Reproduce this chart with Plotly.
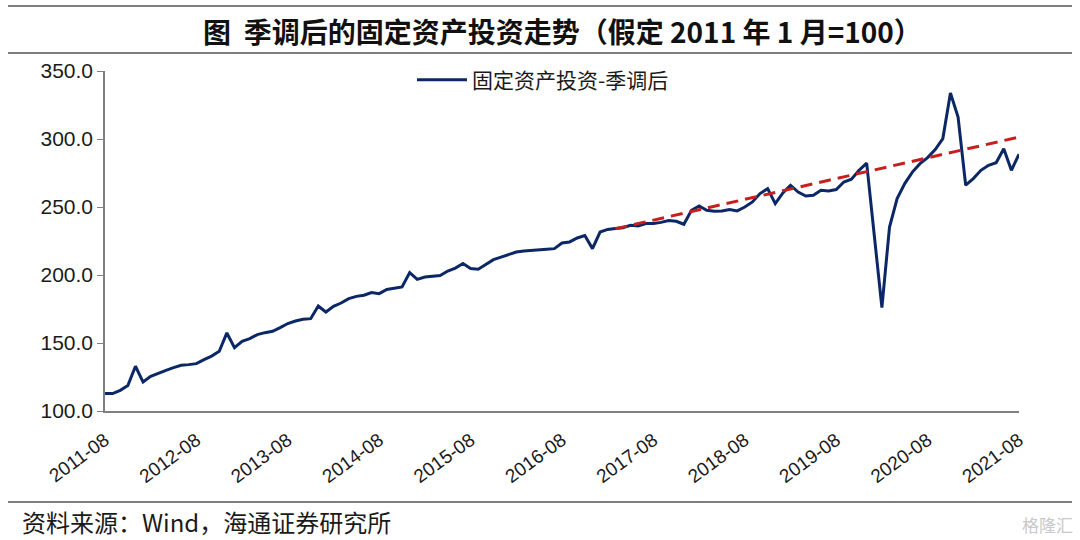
import pandas as pd
import plotly.graph_objects as go

# ---------------- data ----------------
months = [d.strftime("%Y-%m") for d in pd.date_range("2011-08-01", periods=121, freq="MS")]

fai_sa = [
    112.8, 112.8, 115.2, 118.7, 132.9, 121.3, 125.5, 127.9, 129.9, 131.9,
    133.6, 134.1, 134.8, 137.8, 140.4, 143.9, 157.4, 146.6, 151.3, 153.2,
    156.2, 157.6, 158.6, 161.3, 164.3, 166.2, 167.4, 167.9, 177.2, 172.8,
    177.0, 179.4, 182.6, 184.3, 185.1, 187.1, 186.3, 189.3, 190.0, 191.2,
    201.8, 196.8, 198.5, 199.3, 199.6, 202.9, 205.1, 208.4, 204.7, 204.2,
    207.9, 211.3, 213.2, 215.0, 216.9, 217.6, 218.2, 218.7, 218.9, 219.4,
    223.5, 224.3, 227.2, 229.0, 219.4, 231.6, 233.5, 234.2, 234.8, 236.5,
    236.0, 237.8, 237.8, 238.7, 240.0, 239.5, 237.3, 247.6, 250.7, 247.6,
    246.8, 247.1, 248.1, 247.1, 250.0, 253.7, 259.9, 263.5, 252.5, 260.3,
    266.0, 261.0, 258.1, 258.6, 262.3, 261.8, 262.8, 268.4, 270.4, 277.0,
    282.2, None, 176.0, 235.3, 256.2, 267.2, 275.7, 281.9, 286.3, 292.2,
    300.3, 333.8, 316.2, 266.0, 270.9, 277.0, 280.7, 282.6, 292.9, 277.0,
    288.8,
]

trend_x = ["2017-03", "2021-08"]
trend_y = [234.0, 301.4]

tick_labels = [m for m in months if m.endswith("-08")]
y_ticks = [100, 150, 200, 250, 300, 350]

title_text = "图  季调后的固定资产投资走势（假定 2011 年 1 月=100）"
series_name = "固定资产投资-季调后"
source_text = "资料来源：Wind，海通证券研究所"

# ---------------- layout helpers ----------------
W, H = 1080, 540
L, R, T, B = 105, 61, 71, 129
PW, PH = W - L - R, H - T - B


def px(xp):
    return (xp - L) / PW


def py(yp):
    return (H - B - yp) / PH


CJK = "Noto Sans CJK SC"
LAT = "Liberation Sans, Arial"

fig = go.Figure()
fig.add_trace(go.Scatter(
    x=months, y=fai_sa, mode="lines", name=series_name,
    line=dict(color="#0C2765", width=3), connectgaps=True,
))
fig.add_trace(go.Scatter(
    x=trend_x, y=trend_y, mode="lines", showlegend=False,
    line=dict(color="#C81E1E", width=3, dash="12px,7px"),
))

fig.update_layout(
    width=W, height=H,
    margin=dict(l=L, r=R, t=T, b=B),
    paper_bgcolor="white", plot_bgcolor="white",
    font=dict(family=LAT, size=18, color="#1a1a1a"),
    showlegend=True,
    legend=dict(
        orientation="h", x=px(412), xanchor="left", y=py(80), yanchor="middle",
        font=dict(family=CJK, size=21, color="#1a1a1a"),
        bgcolor="rgba(0,0,0,0)", itemwidth=50,
    ),
    xaxis=dict(
        type="category", categoryorder="array", categoryarray=months,
        range=[0, len(months) - 1],
        tickmode="array", tickvals=tick_labels, ticktext=tick_labels,
        tickangle=-36, showgrid=False, zeroline=False,
        showline=True, linecolor="#808080", linewidth=1.5,
        ticks="", ticklabelstandoff=9,
        tickfont=dict(family=LAT, size=19, color="#1a1a1a"),
    ),
    yaxis=dict(
        range=[100, 350], tickmode="array", tickvals=y_ticks,
        tickformat=".1f", showgrid=False, zeroline=False,
        showline=True, linecolor="#808080", linewidth=1.5,
        ticks="outside", ticklen=6, tickcolor="#808080",
        tickfont=dict(family=LAT, size=21, color="#1a1a1a"),
    ),
)

# title
fig.add_annotation(
    x=0.5, xref="paper", xanchor="center",
    y=py(31), yref="paper", yanchor="middle",
    text="<b>" + title_text + "</b>", showarrow=False,
    font=dict(family=CJK, size=28, color="#111111"),
)
# source
fig.add_annotation(
    x=px(20), xref="paper", xanchor="left",
    y=py(521), yref="paper", yanchor="middle",
    text=source_text, showarrow=False,
    font=dict(family=CJK, size=24, color="#1a1a1a"),
)
# watermark
fig.add_annotation(
    x=px(1075), xref="paper", xanchor="right",
    y=py(524), yref="paper", yanchor="middle",
    text="格隆汇", showarrow=False,
    font=dict(family=CJK, size=17, color="#c8c8c8"),
)

# horizontal rules
for yy in (6, 53, 502):
    fig.add_shape(
        type="line", xref="paper", yref="paper",
        x0=px(8), x1=px(1072), y0=py(yy), y1=py(yy),
        line=dict(color="#555555", width=1.5),
    )

fig.write_html(
    "out.html",
    config={"displayModeBar": False},
    post_script="document.body.style.margin='0';document.body.style.padding='0';",
)
